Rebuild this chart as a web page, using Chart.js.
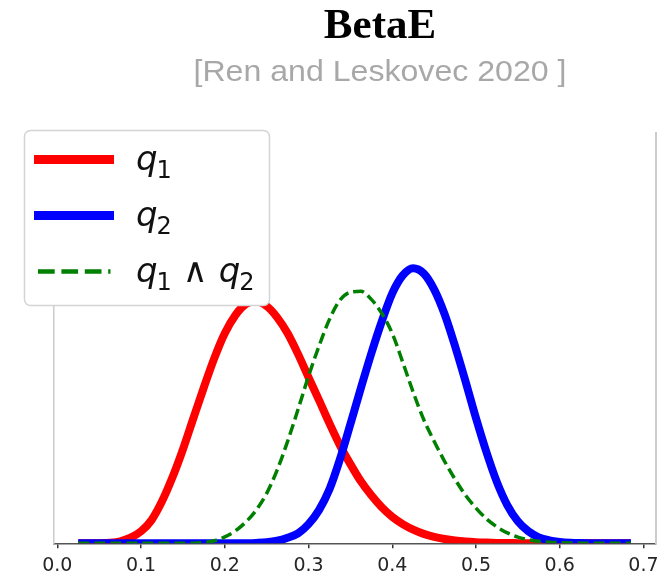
<!DOCTYPE html>
<html>
<head>
<meta charset="utf-8">
<script src="https://cdn.jsdelivr.net/npm/chart.js@4.4.0/dist/chart.umd.min.js"></script>
<style>
html,body{margin:0;padding:0;background:#fff;}
#wrap{width:660px;height:577px;position:relative;}
</style>
</head>
<body>
<div id="wrap"><canvas id="c" width="660" height="577"></canvas></div>
<script>
// ---- data ----
const titleText = 'BetaE';
const subtitleText = '[Ren and Leskovec 2020 ]';
const seriesLabels = ['q₁', 'q₂', 'q₁ ∧ q₂'];
const xTicks = [0.0, 0.1, 0.2, 0.3, 0.4, 0.5, 0.6, 0.7];
const xValues = [0.025, 0.0375, 0.05, 0.0625, 0.075, 0.0875, 0.1, 0.1125, 0.125, 0.1375,
                 0.15, 0.1625, 0.175, 0.1875, 0.2, 0.2125, 0.225, 0.2375, 0.25, 0.2625,
                 0.275, 0.2875, 0.3, 0.3125, 0.325, 0.3375, 0.35, 0.3625, 0.375, 0.3875,
                 0.4, 0.4125, 0.425, 0.4375, 0.45, 0.4625, 0.475, 0.4875, 0.5, 0.5125,
                 0.525, 0.5375, 0.55, 0.5625, 0.575, 0.5875, 0.6, 0.6125, 0.625, 0.6375,
                 0.65, 0.6625, 0.675, 0.685];
const q1Values = [0, 0.0005, 0.004, 0.015, 0.05, 0.14, 0.3, 0.58, 1.05, 1.65,
                  2.35, 3.13, 3.9, 4.63, 5.25, 5.7, 5.98, 6.05, 5.93, 5.65,
                  5.25, 4.73, 4.15, 3.58, 3.0, 2.45, 1.98, 1.55, 1.2, 0.9,
                  0.66, 0.48, 0.34, 0.235, 0.16, 0.108, 0.07, 0.045, 0.028, 0.018,
                  0.01, 0.006, 0.004, 0.002, 0.001, 0.0005, 0, 0, 0, 0,
                  0, 0, 0, 0];
const q2Values = [0, 0, 0, 0, 0, 0, 0, 0, 0, 0,
                  0, 0, 0, 0, 0, 0.001, 0.003, 0.01, 0.025, 0.063,
                  0.14, 0.25, 0.48, 0.83, 1.35, 2.1, 2.98, 3.88, 4.75, 5.55,
                  6.25, 6.7, 6.88, 6.75, 6.35, 5.73, 4.93, 4.05, 3.13, 2.28,
                  1.53, 0.95, 0.55, 0.3, 0.15, 0.075, 0.035, 0.015, 0.006, 0.0025,
                  0.001, 0, 0, 0];
const q1q2Values = [0, 0, 0, 0, 0, 0, 0, 0, 0, 0,
                    0, 0.0025, 0.02, 0.063, 0.16, 0.31, 0.53, 0.83, 1.25, 1.83,
                    2.55, 3.35, 4.18, 4.93, 5.6, 6.08, 6.28, 6.3, 6.1, 5.75,
                    5.25, 4.53, 3.78, 3.1, 2.55, 2.05, 1.6, 1.2, 0.88, 0.61,
                    0.41, 0.26, 0.155, 0.09, 0.05, 0.028, 0.015, 0.008, 0.004, 0.001,
                    0, 0, 0, 0];

const toPts = vals => xValues.map((x, i) => ({x: x, y: vals[i]}));

// ---- title / legend drawing plugin ----
function drawMath(ctx, label, x, base) {
  const subMap = {'₁': '1', '₂': '2'};
  for (const ch of label) {
    if (subMap[ch]) {
      ctx.font = '24px "DejaVu Sans"';
      ctx.fillText(subMap[ch], x - 1, base + 8);
      x += ctx.measureText(subMap[ch]).width - 1;
    } else if (ch === ' ') {
      x += 11;
    } else if (/[a-z]/i.test(ch)) {
      ctx.font = 'italic 34px "DejaVu Sans"';
      ctx.fillText(ch, x, base);
      x += ctx.measureText(ch).width;
    } else {
      ctx.font = '34px "DejaVu Sans"';
      ctx.fillText(ch, x, base);
      x += ctx.measureText(ch).width;
    }
  }
}

const decorPlugin = {
  id: 'decor',
  afterDraw(chart) {
    const ctx = chart.ctx;
    ctx.save();
    // title
    ctx.fillStyle = '#000';
    ctx.textAlign = 'center';
    ctx.textBaseline = 'alphabetic';
    ctx.font = 'bold 43px "Liberation Serif"';
    ctx.fillText(titleText, 380, 38);
    // subtitle
    ctx.font = '29px "Liberation Sans"';
    ctx.fillStyle = '#a8a8a8';
    const w = ctx.measureText(subtitleText).width;
    ctx.save();
    ctx.translate(380, 81);
    ctx.scale(373 / w, 1);
    ctx.fillText(subtitleText, 0, 0);
    ctx.restore();

    // legend box
    ctx.beginPath();
    ctx.roundRect(24.5, 130.5, 245, 175, 6);
    ctx.fillStyle = '#ffffff';
    ctx.fill();
    ctx.strokeStyle = '#d4d4d4';
    ctx.lineWidth = 1.5;
    ctx.stroke();

    ctx.textAlign = 'left';
    chart.data.datasets.forEach((ds, i) => {
      const cy = 159.5 + i * 56;
      ctx.beginPath();
      ctx.strokeStyle = ds.borderColor;
      ctx.lineCap = 'butt';
      if (ds.borderDash && ds.borderDash.length) {
        ctx.setLineDash([16.7, 6.7]);
        ctx.lineWidth = 4.5;
        ctx.moveTo(38, cy);
        ctx.lineTo(110.5, cy);
      } else {
        ctx.setLineDash([]);
        ctx.lineWidth = 9;
        ctx.moveTo(34, cy);
        ctx.lineTo(114, cy);
      }
      ctx.stroke();
      ctx.setLineDash([]);
      ctx.fillStyle = '#111';
      drawMath(ctx, ds.label, 136, cy + 10.5);
    });
    ctx.restore();
  }
};

new Chart(document.getElementById('c'), {
  type: 'line',
  data: {
    datasets: [
      {label: seriesLabels[0], data: toPts(q1Values), borderColor: '#ff0000', borderWidth: 8,
       pointRadius: 0, cubicInterpolationMode: 'monotone', fill: false, order: 3, clip: 0},
      {label: seriesLabels[1], data: toPts(q2Values), borderColor: '#0000ff', borderWidth: 8,
       pointRadius: 0, cubicInterpolationMode: 'monotone', fill: false, order: 2, clip: 0},
      {label: seriesLabels[2], data: toPts(q1q2Values), borderColor: '#008000', borderWidth: 3.5,
       borderDash: [11, 5], pointRadius: 0, cubicInterpolationMode: 'monotone', fill: false, order: 1, clip: 0}
    ]
  },
  options: {
    responsive: false,
    animation: false,
    devicePixelRatio: 1,
    layout: {padding: {left: 54, right: 4, top: 133, bottom: 0}},
    plugins: {legend: {display: false}, title: {display: false}, tooltip: {enabled: false}},
    scales: {
      x: {
        type: 'linear',
        min: -0.004, max: 0.715,
        afterBuildTicks: s => { s.ticks = xTicks.map(v => ({value: v})); },
        afterFit: s => { s.height = 33.7; s.paddingLeft = 0; s.paddingRight = 0; },
        ticks: {
          callback: v => Number(v).toFixed(1),
          font: {family: 'DejaVu Sans', size: 19},
          color: '#262626',
          padding: 6,
          maxRotation: 0,
          autoSkip: false
        },
        grid: {display: true, drawOnChartArea: false, drawTicks: true, tickLength: 5,
               color: '#333', lineWidth: 1.5},
        border: {display: true, color: '#555', width: 1.5}
      },
      y: {
        type: 'linear',
        position: 'left',
        min: 0, max: 10.26,
        afterFit: s => { s.width = 0; s.paddingTop = 0; s.paddingBottom = 0; },
        ticks: {display: false},
        grid: {display: false},
        border: {display: true, color: '#cccccc', width: 1.5}
      },
      y2: {
        type: 'linear',
        position: 'right',
        min: 0, max: 10.26,
        afterFit: s => { s.width = 0; s.paddingTop = 0; s.paddingBottom = 0; },
        ticks: {display: false},
        grid: {display: false},
        border: {display: true, color: '#cccccc', width: 2}
      }
    }
  },
  plugins: [decorPlugin]
});
</script>
</body>
</html>
